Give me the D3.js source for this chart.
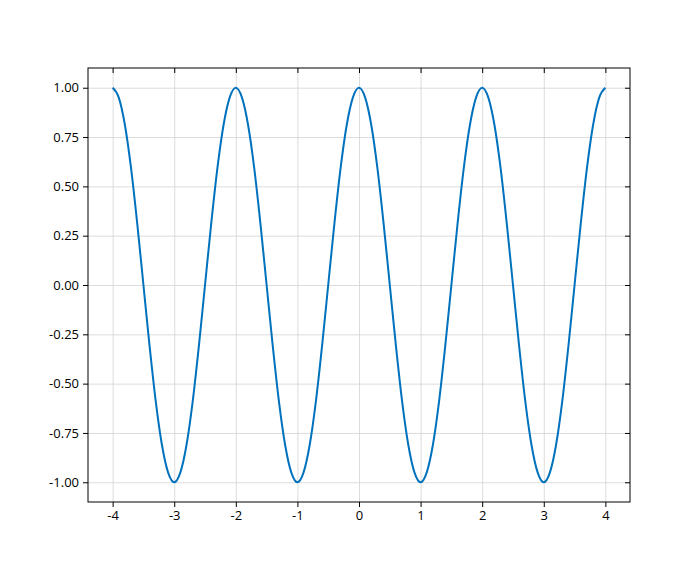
<!DOCTYPE html>
<html>
<head>
<meta charset="utf-8">
<script src="https://cdn.jsdelivr.net/npm/d3@7"></script>
<style>
  body { margin: 0; background: #fff; }
  .tick text { font-family: "Open Sans", "Noto Sans", sans-serif; font-size: 13px; fill: #000; }
  .grid line { stroke: #d3d3d3; stroke-width: 0.8; }
  .grid .domain { display: none; }
</style>
</head>
<body>
<div id="chart"></div>
<script>
var xTicks = [-4, -3, -2, -1, 0, 1, 2, 3, 4];
var yTicks = [-1.00, -0.75, -0.50, -0.25, 0.00, 0.25, 0.50, 0.75, 1.00];

var xs = [
  -4.0, -3.9, -3.8, -3.7, -3.6, -3.5, -3.4, -3.3, -3.2, -3.1,
  -3.0, -2.9, -2.8, -2.7, -2.6, -2.5, -2.4, -2.3, -2.2, -2.1,
  -2.0, -1.9, -1.8, -1.7, -1.6, -1.5, -1.4, -1.3, -1.2, -1.1,
  -1.0, -0.9, -0.8, -0.7, -0.6, -0.5, -0.4, -0.3, -0.2, -0.1,
  0.0, 0.1, 0.2, 0.3, 0.4, 0.5, 0.6, 0.7, 0.8, 0.9,
  1.0, 1.1, 1.2, 1.3, 1.4, 1.5, 1.6, 1.7, 1.8, 1.9,
  2.0, 2.1, 2.2, 2.3, 2.4, 2.5, 2.6, 2.7, 2.8, 2.9,
  3.0, 3.1, 3.2, 3.3, 3.4, 3.5, 3.6, 3.7, 3.8, 3.9,
  4.0
];
var ys = [
  1.00, 0.95, 0.81, 0.59, 0.31, 0.00, -0.31, -0.59, -0.81, -0.95,
  -1.00, -0.95, -0.81, -0.59, -0.31, 0.00, 0.31, 0.59, 0.81, 0.95,
  1.00, 0.95, 0.81, 0.59, 0.31, 0.00, -0.31, -0.59, -0.81, -0.95,
  -1.00, -0.95, -0.81, -0.59, -0.31, 0.00, 0.31, 0.59, 0.81, 0.95,
  1.00, 0.95, 0.81, 0.59, 0.31, 0.00, -0.31, -0.59, -0.81, -0.95,
  -1.00, -0.95, -0.81, -0.59, -0.31, 0.00, 0.31, 0.59, 0.81, 0.95,
  1.00, 0.95, 0.81, 0.59, 0.31, 0.00, -0.31, -0.59, -0.81, -0.95,
  -1.00, -0.95, -0.81, -0.59, -0.31, 0.00, 0.31, 0.59, 0.81, 0.95,
  1.00
];

var width = 700, height = 564;
var margin = {top: 68, right: 70, bottom: 62, left: 88};
var w = width - margin.left - margin.right;
var h = height - margin.top - margin.bottom;

var svg = d3.select("#chart").append("svg")
  .attr("width", width)
  .attr("height", height);

var g = svg.append("g")
  .attr("transform", "translate(" + margin.left + "," + margin.top + ")");

var x = d3.scaleLinear().domain([-4.4, 4.4]).range([0, w]);
var y = d3.scaleLinear().domain([-1.1, 1.1]).range([h, 0]);

// grid
g.append("g").attr("class", "grid")
  .attr("transform", "translate(0," + h + ")")
  .call(d3.axisBottom(x).tickValues(xTicks).tickSize(-h).tickFormat(""));
g.append("g").attr("class", "grid")
  .call(d3.axisLeft(y).tickValues(yTicks).tickSize(-w).tickFormat(""));

// curve
var line = d3.line()
  .x(function(d, i) { return x(xs[i]); })
  .y(function(d) { return y(d); })
  .curve(d3.curveMonotoneX);

g.append("path")
  .datum(ys)
  .attr("fill", "none")
  .attr("stroke", "#0072BD")
  .attr("stroke-width", 2)
  .attr("d", line);

// axes: outward ticks left/bottom, inward ticks top/right
function styleAxis(sel) {
  sel.select(".domain").remove();
  sel.selectAll(".tick line").attr("stroke", "#000").attr("stroke-width", 1);
}

g.append("g")
  .attr("transform", "translate(0," + h + ")")
  .call(d3.axisBottom(x).tickValues(xTicks).tickSize(5).tickPadding(4)
    .tickFormat(d3.format("d")))
  .call(styleAxis);

g.append("g")
  .call(d3.axisLeft(y).tickValues(yTicks).tickSize(5).tickPadding(4)
    .tickFormat(d3.format(".2f")))
  .call(styleAxis);

g.append("g")
  .call(d3.axisTop(x).tickValues(xTicks).tickSize(-5).tickFormat(""))
  .call(styleAxis);

g.append("g")
  .attr("transform", "translate(" + w + ",0)")
  .call(d3.axisRight(y).tickValues(yTicks).tickSize(-5).tickFormat(""))
  .call(styleAxis);

g.append("rect")
  .attr("width", w)
  .attr("height", h)
  .attr("fill", "none")
  .attr("stroke", "#000")
  .attr("stroke-width", 1);

// minus sign in reference is a plain hyphen
svg.selectAll(".tick text").text(function() {
  return d3.select(this).text().replace("\u2212", "-");
});
</script>
</body>
</html>
